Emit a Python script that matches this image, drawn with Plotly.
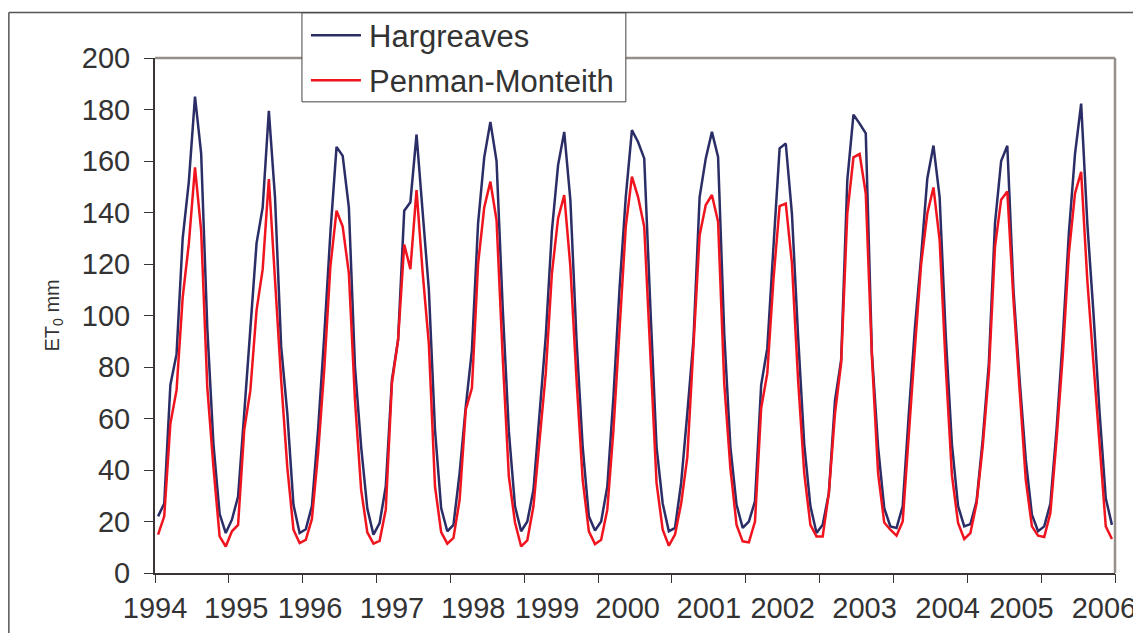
import plotly.graph_objects as go

years = [str(y) for y in range(1994, 2007)]

hargreaves = [
    22, 27, 73, 85, 130, 152, 185, 163, 95, 50, 23, 15.5,
    20.7, 29.7, 62, 94, 128, 142, 179.5, 146, 88, 62, 26.5, 15.5,
    17, 26, 55.6, 92, 132, 165.5, 162, 142, 80, 49, 25, 14.9,
    19.4, 33.6, 75, 90.5, 140.7, 144, 170.3, 140, 110, 55.6, 25.2, 16.2,
    18.7, 38.8, 64.6, 86.6, 135.8, 161.4, 175.2, 160, 103, 55, 25.9, 16.2,
    20, 32.3, 63.4, 92, 133, 158.4, 171.3, 144.8, 90.5, 49, 22, 16.5,
    20, 33.6, 68.5, 111, 146, 172, 167.4, 161, 103, 49, 27, 16.2,
    17.5, 35, 62, 90.5, 146, 161, 171.3, 161.6, 93, 49, 26.5, 17.5,
    20, 27.8, 73, 87.3, 126.7, 164.9, 166.8, 139.6, 92, 50, 26, 15.5,
    18.7, 31, 67, 82.7, 152.6, 178, 174.5, 170.7, 85.3, 49, 25.2, 18.1,
    17.5, 25.9, 62, 95.6, 123, 153.2, 166, 146, 92, 50, 26, 18.1,
    19, 27.8, 51.7, 81.5, 135.8, 160, 165.9, 110, 75, 44, 22.6, 16.2,
    18.1, 27, 55.6, 90.5, 131.9, 162.7, 182.3, 135.8, 100.9, 62, 29, 18.7,
]

penman_monteith = [
    14.9, 22, 58, 71, 107, 128, 157.5, 133, 72, 41, 14.2, 10.3,
    16.2, 18.7, 55.6, 71, 102, 118, 153, 114, 75, 41, 16.8, 11.6,
    12.9, 21, 46.5, 79, 119, 140.7, 134.5, 116.5, 67, 32.3, 15.8, 11.4,
    12.5, 24.6, 73.7, 90.5, 127.6, 118, 148.7, 116.5, 89, 33.6, 15.9, 11.4,
    13.6, 28.4, 63.4, 71.8, 120, 142, 152, 137, 84, 37.5, 19.6, 10.3,
    12.7, 25.9, 51.7, 77.6, 116.4, 137.7, 146.8, 119, 75, 36.2, 16.2, 11.2,
    12.9, 24.6, 55.6, 97, 134.5, 153.9, 146, 134.5, 87, 35, 16.8, 10.6,
    14.9, 27, 45, 87, 131.2, 142.9, 146.8, 136.4, 73.7, 40.7, 18.7, 12.3,
    11.9, 20, 64, 77.6, 114, 142.5, 143.5, 120.3, 75, 38.8, 18.7, 14.2,
    14.2, 31, 62, 81.5, 139.6, 161.4, 162.7, 147.4, 84, 38.8, 19.6, 16.8,
    14.5, 20, 55.6, 87.9, 120, 139.6, 149.7, 129.3, 80, 38, 19.4, 13.2,
    15.5, 27, 49, 77.6, 126.7, 145, 148.2, 106, 71, 36.2, 18.1, 14.5,
    14, 23.3, 51.7, 84, 124, 147.4, 155.8, 113.7, 81.5, 49, 18.1, 13.2,
]

series_names = ["Hargreaves", "Penman-Monteith"]
series_colors = ["#2b2d66", "#f0141e"]

n_months = len(hargreaves)
months = [i + 0.5 for i in range(n_months)]          # mid-category positions
year_ticks = list(range(0, n_months + 1, 12))          # tick marks at year boundaries
label_pos = [0, 13.2, 25.2, 38.5, 51.7, 63.7, 76.8, 90.0, 102.0, 115.3, 128.8, 140.8, 154.2]

FONT = "Liberation Sans, Arial, sans-serif"
TXT = "#333333"

OFF = 8  # page body margin of the html page
W, H = 1141, 633
L, T = 155 - OFF, 57.8 - OFF
R, B = W - (1115.3 - OFF), H - (573.3 - OFF)
PW, PH = W - L - R, H - T - B


def px_x(x):
    return (x - OFF - L) / PW


def px_y(y):
    return (H - B - (y - OFF)) / PH


fig = go.Figure()
for name, vals, col in zip(series_names, [hargreaves, penman_monteith], series_colors):
    fig.add_trace(go.Scatter(x=months, y=vals, mode="lines", name=name,
                             showlegend=False, line=dict(color=col, width=2.5)))
# invisible trace to activate the tick-mark axis
fig.add_trace(go.Scatter(x=[0, n_months], y=[None, None], xaxis="x2", showlegend=False,
                         hoverinfo="skip"))

fig.update_layout(
    width=W, height=H,
    margin=dict(l=L, r=R, t=T, b=B, autoexpand=False),
    paper_bgcolor="white", plot_bgcolor="white",
    font=dict(family=FONT, color=TXT, size=29),
    showlegend=False,
    xaxis=dict(range=[0, n_months], tickvals=label_pos, ticktext=years,
               ticks="outside", ticklen=8, tickcolor="rgba(0,0,0,0)",
               ticklabeloverflow="allow", automargin=False,
               showgrid=False, zeroline=False, showline=True, linecolor="#3a3434", linewidth=2,
               tickfont=dict(size=29, color=TXT), fixedrange=True),
    xaxis2=dict(range=[0, n_months], overlaying="x", side="bottom",
                tickvals=year_ticks, ticktext=[""] * len(year_ticks),
                ticks="outside", ticklen=9, tickcolor="#3a3434", tickwidth=1.3,
                showgrid=False, zeroline=False, showline=False, showticklabels=False,
                automargin=False),
    yaxis=dict(range=[0, 200], tickvals=list(range(0, 201, 20)),
               ticks="outside", ticklen=9, tickcolor="#3a3434", tickwidth=1.3,
               showgrid=False, zeroline=False, showline=True, linecolor="#3a3434", linewidth=2,
               tickfont=dict(size=29, color=TXT), ticklabelstandoff=8, automargin=False),
)

# grey top/right plot border
fig.add_shape(type="line", xref="paper", yref="paper", x0=0, x1=1, y0=1, y1=1,
              line=dict(color="#968e88", width=2.5))
fig.add_shape(type="line", xref="paper", yref="paper", x0=1, x1=1, y0=0, y1=1,
              line=dict(color="#968e88", width=2.5))
# outer chart frame (top, left, right edges; bottom lies below the view)
frame = dict(color="#555555", width=1.5)
fx0, fx1 = px_x(8.8), px_x(1137.5)
fy0, fy1 = px_y(640), px_y(12.3)
fig.add_shape(type="line", xref="paper", yref="paper", x0=fx0, x1=fx1, y0=fy1, y1=fy1, line=frame)
fig.add_shape(type="line", xref="paper", yref="paper", x0=fx0, x1=fx0, y0=fy0, y1=fy1, line=frame)
fig.add_shape(type="line", xref="paper", yref="paper", x0=fx1, x1=fx1, y0=fy0, y1=fy1, line=frame)

# legend box
fig.add_shape(type="rect", xref="paper", yref="paper",
              x0=px_x(302), x1=px_x(626), y0=px_y(101.7), y1=px_y(12.7),
              fillcolor="white", line=dict(color="#444444", width=1), layer="above")
for k, (name, col) in enumerate(zip(series_names, series_colors)):
    yy = 35 + 45 * k
    fig.add_shape(type="line", xref="paper", yref="paper",
                  x0=px_x(311), x1=px_x(361), y0=px_y(yy), y1=px_y(yy),
                  line=dict(color=col, width=2.5), layer="above")
    fig.add_annotation(text=name, xref="paper", yref="paper",
                       x=px_x(367), y=px_y(yy + 1), xanchor="left", yanchor="middle",
                       showarrow=False, font=dict(family=FONT, size=31, color=TXT))

fig.add_annotation(text="ET<sub>0</sub> mm", xref="paper", yref="paper",
                   x=px_x(53), y=0.5, textangle=-90, showarrow=False,
                   xanchor="center", yanchor="middle",
                   font=dict(family=FONT, size=20, color=TXT))

fig.write_html("out.html")
